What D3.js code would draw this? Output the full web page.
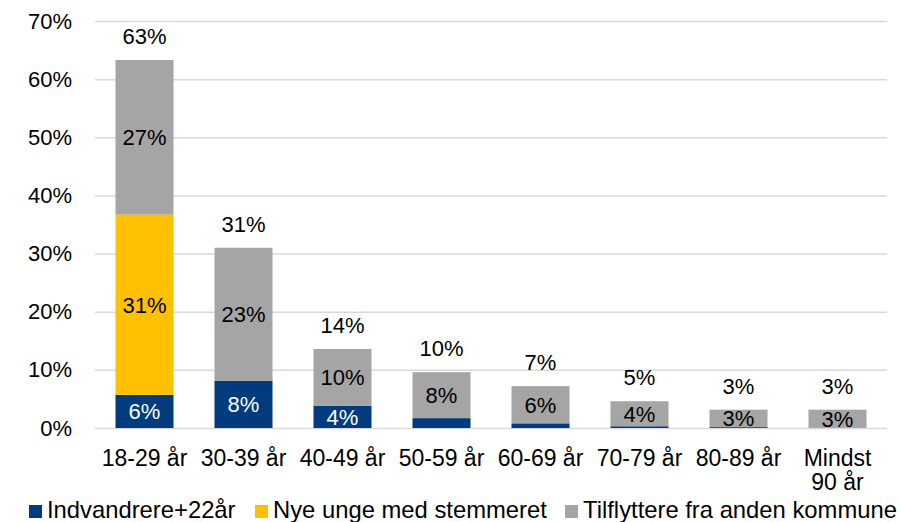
<!DOCTYPE html>
<html>
<head>
<meta charset="utf-8">
<script src="https://cdn.jsdelivr.net/npm/d3@7"></script>
<style>
  body { margin: 0; background: #fff; }
  text { font-family: "Liberation Sans", Arial, sans-serif; }
</style>
</head>
<body>
<svg class="chart" width="901" height="522"></svg>
<script>
// Age groups on the x axis (the last one is split over two lines)
const categories = ['18-29 år', '30-39 år', '40-49 år', '50-59 år', '60-69 år', '70-79 år', '80-89 år', 'Mindst|90 år'];
// Series values in percent
const indvandrere = [5.7, 8.1, 3.8, 1.7, 0.8, 0.3, 0.15, 0.05];
const nyeUnge     = [31.0, 0, 0, 0, 0, 0, 0, 0];
const tilflyttere = [26.6, 22.9, 9.8, 7.9, 6.4, 4.3, 3.0, 3.1];
const seriesNames = ['Indvandrere+22år', 'Nye unge med stemmeret', 'Tilflyttere fra anden kommune'];
const yTicks = [0, 10, 20, 30, 40, 50, 60, 70];

const colors = ['#003c7d', '#ffc000', '#a5a5a5'];
const labelColors = ['#fff', '#000', '#000'];

let svg = d3.select('.chart');

// Build stacked rows from the arrays
const rows = categories.map((c, i) => ({
    cat: c,
    s0: indvandrere[i],
    s1: nyeUnge[i],
    s2: tilflyttere[i]
}));
const keys = ['s0', 's1', 's2'];
const stacked = d3.stack().keys(keys)(rows);

/* Scales */
const xScale = d3.scaleBand()
    .domain(categories)
    .range([95, 887])
    .paddingInner(0.414)
    .paddingOuter(0.207);
const yScale = d3.scaleLinear()
    .domain([0, 70])
    .range([428, 21]);

/* Gridlines + y labels */
let yAxis = svg.append('g')
    .attr('class', 'y-axis')
    .attr('transform', 'translate(95,0)')
    .call(d3.axisLeft(yScale)
        .tickValues(yTicks)
        .tickSize(-792)
        .tickPadding(23)
        .tickFormat((d) => d + '%'));
yAxis.select('.domain').remove();
yAxis.selectAll('line').attr('stroke', '#d9d9d9').attr('stroke-width', 1.5);
yAxis.selectAll('text')
    .attr('font-size', 22)
    .attr('fill', '#000');

/* Bars */
let layers = svg.selectAll('g.layer')
    .data(stacked)
    .enter()
    .append('g')
    .attr('class', 'layer')
    .attr('fill', (d, i) => colors[i]);

layers.selectAll('rect')
    .data((d) => d)
    .enter()
    .append('rect')
    .attr('x', (d) => xScale(d.data.cat))
    .attr('width', xScale.bandwidth())
    .attr('y', (d) => yScale(d[1]))
    .attr('height', (d) => yScale(d[0]) - yScale(d[1]));

// Segment labels, only where the segment is big enough
layers.each(function(layer, li){
    d3.select(this).selectAll('text')
        .data(layer.filter((d) => d[1] - d[0] >= 2.5))
        .enter()
        .append('text')
        .attr('x', (d) => xScale(d.data.cat) + xScale.bandwidth() / 2)
        .attr('y', (d) => yScale((d[0] + d[1]) / 2))
        .attr('dy', '0.36em')
        .attr('text-anchor', 'middle')
        .attr('font-size', 22)
        .attr('fill', labelColors[li])
        .text((d) => Math.round(d[1] - d[0]) + '%');
});

// Totals above the bars
svg.append('g')
    .selectAll('text')
    .data(rows)
    .enter()
    .append('text')
    .attr('x', (d) => xScale(d.cat) + xScale.bandwidth() / 2)
    .attr('y', (d) => yScale(d.s0 + d.s1 + d.s2) - 24)
    .attr('dy', '0.36em')
    .attr('text-anchor', 'middle')
    .attr('font-size', 22)
    .text((d) => Math.round(d.s0 + d.s1 + d.s2) + '%');

/* Category labels */
let catLabels = svg.append('g')
    .selectAll('text')
    .data(categories)
    .enter()
    .append('text')
    .attr('x', (d) => xScale(d) + xScale.bandwidth() / 2)
    .attr('y', 466)
    .attr('text-anchor', 'middle')
    .attr('font-size', 23);
catLabels.selectAll('tspan')
    .data((d) => d.split('|'))
    .enter()
    .append('tspan')
    .attr('x', function(){ return d3.select(this.parentNode).attr('x'); })
    .attr('dy', (d, i) => i === 0 ? 0 : 24)
    .text((d) => d);

/* Legend */
const legendX = [29, 255, 565];
let legend = svg.append('g')
    .selectAll('g')
    .data(seriesNames)
    .enter()
    .append('g')
    .attr('transform', (d, i) => `translate(${legendX[i]},505)`);
legend.append('rect')
    .attr('width', 13)
    .attr('height', 13)
    .attr('fill', (d, i) => colors[i]);
legend.append('text')
    .attr('x', 18)
    .attr('y', 13)
    .attr('font-size', 23.8)
    .text((d) => d);
</script>
</body>
</html>
